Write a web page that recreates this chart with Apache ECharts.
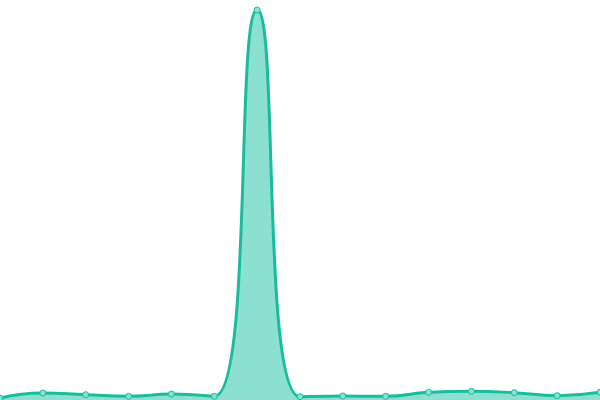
<!DOCTYPE html>
<html>
<head>
<meta charset="utf-8">
<title>peak</title>
<script type="text/javascript" src="https://cdn.jsdelivr.net/npm/echarts@6/dist/echarts.min.js"></script>
<style>html,body{margin:0;padding:0;background:#fff;}</style>
</head>
<body>
<div id="main" style="width: 600px; height: 400px;"></div>
<script type="text/javascript">
	// 15 evenly spaced points
	var categories = ['1', '2', '3', '4', '5', '6', '7', '8', '9', '10', '11', '12', '13', '14', '15'];
	var values = [2, 7, 5.3, 3.7, 6, 3.7, 390, 3.3, 4, 3.7, 7.7, 8.7, 7.3, 4.3, 7.7];

	var myChart = echarts.init(document.getElementById('main'));

	var option = {
		animation: false,
		grid: { left: 0, right: 0, top: 0, bottom: 0 },
		xAxis: {
			type: 'category',
			data: categories,
			boundaryGap: false,
			show: false
		},
		yAxis: {
			type: 'value',
			min: 0,
			max: 400,
			show: false
		},
		series: [{
			type: 'line',
			data: values,
			smooth: true,
			symbol: 'circle',
			symbolSize: 6,
			lineStyle: { color: '#1abc9c', width: 3 },
			itemStyle: { color: '#8be0cf', borderColor: '#1abc9c', borderWidth: 1 },
			areaStyle: { color: '#8be0cf', opacity: 1 }
		}]
	};

	myChart.setOption(option);
</script>
</body>
</html>
